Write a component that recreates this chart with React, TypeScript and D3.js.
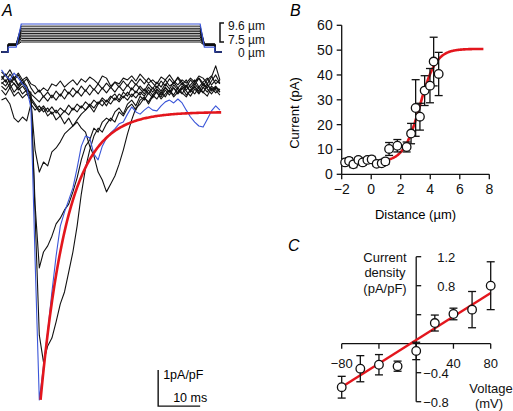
import React from "react";
import * as d3 from "d3";

const FONT = "'Liberation Sans', Arial, Helvetica, sans-serif";
const BLUE = "#3a55d8";
const RED = "#e3161d";

// ---------- Panel A data ----------
const T_MS = d3.range(0, 53); // sample times (ms), 1 ms spacing

const TRACE_BLUE = [0.56, 0.39, 0.28, 0.47, 0.33, 0.17, 0.06, -0.5, -4.72, -8.61, -7.67, -6.72, -5.61, -4.61, -3.78, -3.39, -3.06, -2.72, -2.17, -1.56, -1.28, -1.33, -1.78, -1.94, -1.56, -1.33, -1.19, -1.08, -0.94, -0.89, -0.67, -0.47, -0.61, -0.67, -0.56, -0.47, -0.56, -0.58, -0.44, -0.33, -0.28, -0.36, -0.25, -0.36, -0.56, -0.75, -0.89, -1.0, -1.03, -0.81, -0.58, -0.44, -0.56];
const TRACE_1 = [0.22, 0.11, 0.31, 0.17, 0.06, 0.19, 0, -0.06, -3.47, -6.81, -7.56, -7.11, -6.89, -6.44, -5.94, -5.61, -5.06, -4.5, -3.78, -2.89, -2.17, -1.67, -1.28, -1.06, -1.17, -0.94, -0.78, -0.89, -0.61, -0.72, -0.5, -0.39, -0.56, -0.28, -0.19, -0.39, -0.17, -0.06, -0.25, -0.11, 0, -0.19, -0.06, 0.06, -0.14, 0, 0.11, -0.08, 0.06, 0.17, -0.03, 0.08, 0];
const TRACE_2 = [0.33, 0.44, 0.22, 0.36, 0.14, 0.28, 0.11, -0.17, -3.19, -4.94, -4.5, -4.33, -4.06, -3.72, -3.56, -3.33, -3.17, -2.83, -2.44, -1.94, -1.56, -1.39, -1.06, -1.17, -0.89, -0.78, -0.86, -0.61, -0.5, -0.67, -0.39, -0.28, -0.44, -0.17, -0.28, -0.08, -0.22, 0, -0.14, 0.06, -0.06, 0.14, 0, -0.11, 0.11, -0.03, 0.17, 0.03, -0.08, 0.14, 0, 0.11, -0.06];
const TRACE_3 = [0.17, 0.28, 0.06, 0.19, 0, 0.11, -0.06, -0.28, -1.67, -2.28, -2.0, -2.11, -1.72, -1.61, -1.44, -1.22, -1.11, -1.0, -0.83, -0.67, -0.56, -0.44, -0.61, -0.39, -0.28, -0.44, -0.22, -0.11, -0.28, -0.06, -0.17, 0.06, -0.08, 0.11, -0.03, 0.17, 0.03, 0.22, 0.08, 0.28, 0.11, 0.19, 0.33, 0.14, 0.28, 0.06, 0.22, 0.33, 0.11, 0.28, 0.39, 0.17, 0.28];
const TRACE_4 = [0, -0.14, 0.06, -0.17, -0.06, -0.22, -0.11, -0.28, -0.44, -0.61, -0.5, -0.72, -0.61, -0.83, -0.72, -0.94, -0.78, -1.0, -0.89, -1.06, -1.17, -1.56, -1.83, -2.28, -2.5, -2.83, -2.61, -2.39, -2.06, -1.67, -1.22, -0.83, -0.5, -0.39, -0.22, -0.33, -0.14, -0.25, -0.06, -0.19, 0, -0.14, 0.06, -0.08, -0.19, 0, -0.11, 0.08, -0.06, -0.17, 0.06, -0.08, 0.03];
const TRACE_5 = [-0.28, -0.22, -0.39, -0.78, -0.89, -0.75, -0.86, -0.39, -0.56, -0.44, -0.61, -0.5, -0.67, -0.56, -0.72, -0.58, -0.69, -0.5, -0.61, -0.44, -0.56, -0.39, -0.5, -0.33, -0.44, -0.28, -0.39, -0.22, -0.33, -0.17, -0.28, -0.11, -0.22, -0.06, -0.17, 0, -0.14, 0.03, -0.08, 0.08, -0.06, 0.06, -0.11, 0.03, 0.14, -0.06, 0.08, -0.03, 0.17, 0.03, -0.11, 0.06, -0.06];
const TRACE_6 = [0.5, 0.39, 0.56, 0.33, 0.47, 0.28, 0.36, 0.17, 0.11, -0.06, 0.06, -0.03, 0.17, 0.11, 0.25, 0.08, 0.19, 0.28, 0.14, 0.31, 0.22, 0.36, 0.28, 0.17, 0.39, 0.33, 0.11, 0.22, 0.17, 0.33, 0.28, 0.39, 0.25, 0.44, 0.31, 0.19, 0.28, 0.17, 0.36, 0.28, 0.42, 0.25, 0.14, 0.28, 0.19, 0.33, 0.22, 0.39, 0.33, 0.17, 0.36, 0.67, 0.28];
const TRACE_7 = [0.28, 0.44, 0.17, 0.31, 0.11, 0.22, 0.06, -0.11, -0.22, -0.33, -0.17, -0.31, -0.14, -0.28, -0.11, -0.25, -0.06, -0.19, -0.03, -0.17, 0, -0.14, 0.03, -0.11, 0.06, -0.08, 0.08, -0.06, 0.11, -0.03, 0.14, 0, 0.17, 0.03, -0.11, 0.08, -0.06, 0.11, -0.03, 0.17, 0.03, 0.22, 0.06, 0.19, 0, 0.14, 0.28, 0.08, 0.22, 0.33, 0.14, 0.28, 0.17];
const TRACE_8 = [0.11, 0, 0.17, -0.06, 0.08, -0.11, 0, -0.22, -0.39, -0.56, -0.44, -0.61, -0.47, -0.64, -0.5, -0.61, -0.42, -0.56, -0.39, -0.5, -0.33, -0.44, -0.28, -0.39, -0.22, -0.33, -0.17, -0.28, -0.11, -0.22, -0.06, -0.19, -0.03, -0.14, 0.03, -0.11, 0.06, -0.08, -0.19, 0, -0.14, 0.06, -0.08, 0.11, -0.03, -0.17, 0.03, -0.11, 0.08, -0.06, 0.11, 0, -0.14];
const TRACE_9 = [0.39, 0.22, 0.44, 0.28, 0.42, 0.19, 0.31, 0.06, -0.11, 0, -0.19, -0.06, -0.22, -0.03, -0.17, 0.03, -0.11, 0.06, -0.08, 0.11, -0.03, 0.14, 0, 0.17, 0.03, 0.19, 0.06, 0.22, 0.08, 0.25, 0.11, 0.28, 0.14, 0.31, 0.17, 0.33, 0.19, 0.06, 0.25, 0.11, 0.31, 0.17, 0.36, 0.22, 0.08, 0.28, 0.14, 0.33, 0.19, 0.06, 0.25, 0.42, 0.19];
const BLACK_TRACES = [TRACE_9, TRACE_6, TRACE_7, TRACE_8, TRACE_5, TRACE_4, TRACE_3, TRACE_2, TRACE_1];

// exponential fit of the blue trace
const FIT_T0 = 9.3;
const FIT_END = 52.5;
const FIT_PLATEAU = -0.61;
const FIT_AMP = -8.0;
const FIT_TAU = 6.5;

// stimulus (displacement, µm)
const STIM_LEVELS_UM = [9.6, 9.35, 9.1, 8.9, 8.7, 8.5, 8.3, 8.1, 7.9, 7.7, 7.5];
const STIM_PRE_UM = [3.6, 6.1, 5.9, 5.8, 5.7, 5.5, 5.4, 5.3, 5.1, 5.0, 4.9];
const STIM_T = [0, 1.6, 1.6, 3.5, 4.7, 47.3, 48.3, 50.8, 50.8, 52.5];
const STIM_LABELS = ["9.6 µm", "7.5 µm", "0 µm"];

// ---------- Panel B data ----------
const B_DIST = [-1.77, -1.5, -1.21, -0.87, -0.58, -0.26, 0.03, 0.37, 0.71, 0.96, 1.21, 1.77, 2.4, 2.7, 3.01, 3.3, 3.62, 3.98, 4.23, 4.57];
const B_CURR = [4.8, 5.4, 4.0, 5.8, 4.8, 5.8, 6.0, 4.2, 4.4, 5.2, 10.2, 11.5, 11.0, 16.4, 26.7, 23.2, 33.7, 35.7, 45.4, 40.4];
const B_ERR = [1.3, 1.2, 1.3, 1.0, 1.2, 1.0, 1.2, 1.0, 1.0, 1.2, 2.6, 2.5, 2.0, 4.1, 11.4, 5.4, 6.0, 6.9, 9.8, 8.7];
const B_XTICKS = [-2, 0, 2, 4, 6, 8];
const B_YTICKS = [0, 10, 20, 30, 40, 50, 60];
const SIG_BASE = 5.0;
const SIG_TOP = 50.5;
const SIG_X50 = 3.3;
const SIG_K = 0.55;
const SIG_RANGE = [-1.9, 7.6];

// ---------- Panel C data ----------
const C_VOLT = [-80, -60, -40, -20, 0, 20, 40, 60, 80];
const C_DENS = [-0.6, -0.345, -0.29, -0.31, -0.1, 0.285, 0.41, 0.47, 0.8];
const C_ERR = [0.15, 0.18, 0.14, 0.07, 0.12, 0.11, 0.08, 0.25, 0.33];
const C_XTICKS = [-80, -40, 0, 40, 80];
const C_XLABELS = [-80, 40, 80];
const C_YTICKS = [-0.8, -0.4, 0.4, 0.8, 1.2];
const C_YLABELS = [-0.8, -0.4, 0.8, 1.2];
const LIN_SLOPE = 0.0081;
const LIN_INTERCEPT = 0.05;

const fmt = (v: number) => (v < 0 ? "\u2212" + Math.abs(v) : String(v));
const fmtC = (v: number) => (v < 0 ? "\u2212" + Math.abs(v).toFixed(1) : v.toFixed(1));

export default function App() {
  // Panel A scales
  const xA = d3.scaleLinear().domain([0, 53]).range([1.5, 224.1]);
  const yA = d3.scaleLinear().domain([0, -1]).range([90, 126]);
  const yS = d3.scaleLinear().domain([0, 7.5, 9.6]).range([52, 42, 24]);
  const traceLine = d3
    .line<number>()
    .x((_, i) => xA(T_MS[i]))
    .y((d) => yA(d));
  const fitPts = d3.range(FIT_T0, FIT_END + 0.01, 0.25).map((t) => [t, FIT_PLATEAU + FIT_AMP * Math.exp(-(t - FIT_T0) / FIT_TAU)] as [number, number]);
  const fitLine = d3
    .line<[number, number]>()
    .x((d) => xA(d[0]))
    .y((d) => yA(d[1]));
  const stimPath = (lvl: number, pre: number) => {
    const vals = [0, 0, pre, pre, lvl, lvl, pre, pre, 0, 0];
    return d3
      .line<number>()
      .x((_, i) => xA(STIM_T[i]))
      .y((d) => yS(d))(vals) as string;
  };
  const sbT = 37.3;
  const sbV = -8.78;

  // Panel B scales
  const xB = d3.scaleLinear().domain([-2, 8]).range([341.7, 489.3]);
  const yB = d3.scaleLinear().domain([0, 60]).range([174.3, 25.3]);
  const sigPts = d3.range(SIG_RANGE[0], SIG_RANGE[1] + 0.01, 0.05).map((x) => [x, SIG_BASE + (SIG_TOP - SIG_BASE) / (1 + Math.exp(-(x - SIG_X50) / SIG_K))] as [number, number]);
  const sigLine = d3
    .line<[number, number]>()
    .x((d) => xB(d[0]))
    .y((d) => yB(d[1]));

  // Panel C scales
  const xC = d3.scaleLinear().domain([-80, 80]).range([341.7, 490.7]);
  const yC = d3.scaleLinear().domain([-0.8, 1.2]).range([401.7, 256.7]);

  const cap = 4;

  return (
    <div style={{ position: "absolute", left: 0, top: 0 }}>
      <svg width={513} height={411} style={{ display: "block", background: "#fff" }} fontFamily={FONT}>
        {/* ---------------- Panel A ---------------- */}
        <text x={2} y={16} fontSize={16} fontStyle="italic">A</text>
        {/* stimulus */}
        <g fill="none" strokeLinejoin="miter">
          {STIM_LEVELS_UM.slice(1).map((l, i) => (
            <path key={i} d={stimPath(l, STIM_PRE_UM[i + 1])} stroke="#111" strokeWidth={1} />
          ))}
          <path d={stimPath(STIM_LEVELS_UM[0], STIM_PRE_UM[0])} stroke={BLUE} strokeWidth={1.2} />
        </g>
        {/* stimulus scale bracket */}
        <path d={`M224,${yS(9.6) - 1}H220V${yS(7.5)}H224`} fill="none" stroke="#111" strokeWidth={1.5} />
        <g fontSize={12} fill="#111" textAnchor="end">
          <text x={265} y={yS(9.6) + 6}>{STIM_LABELS[0]}</text>
          <text x={265} y={yS(7.5) + 2}>{STIM_LABELS[1]}</text>
          <text x={265} y={yS(0) + 4.5}>{STIM_LABELS[2]}</text>
        </g>
        {/* current traces */}
        <g fill="none" strokeLinejoin="round">
          {BLACK_TRACES.map((tr, i) => (
            <path key={i} d={traceLine(tr) as string} stroke="#111" strokeWidth={1.1} />
          ))}
          <path d={traceLine(TRACE_BLUE) as string} stroke={BLUE} strokeWidth={1.1} />
          <path d={fitLine(fitPts) as string} stroke={RED} strokeWidth={2.6} />
        </g>
        {/* scale bar */}
        <path
          d={`M${xA(sbT)},${yA(sbV + 1)}V${yA(sbV)}H${xA(sbT + 10)}`}
          fill="none"
          stroke="#111"
          strokeWidth={1.4}
        />
        <text x={xA(sbT) + 5} y={yA(sbV + 1) + 9} fontSize={12.5}>1pA/pF</text>
        <text x={xA(sbT) + 15} y={yA(sbV) - 4} fontSize={12.5}>10 ms</text>

        {/* ---------------- Panel B ---------------- */}
        <text x={290} y={16} fontSize={16} fontStyle="italic">B</text>
        <g stroke="#111" strokeWidth={1.3} fill="none">
          <line x1={xB(-2)} x2={xB(-2)} y1={yB(0)} y2={yB(60)} />
          <line x1={xB(-2)} x2={xB(8)} y1={yB(0)} y2={yB(0)} />
          {B_YTICKS.map((v) => (
            <line key={v} x1={xB(-2) - 5} x2={xB(-2)} y1={yB(v)} y2={yB(v)} />
          ))}
          {B_XTICKS.map((v) => (
            <line key={v} x1={xB(v)} x2={xB(v)} y1={yB(0)} y2={yB(0) + 5} />
          ))}
        </g>
        <g fontSize={14} fill="#111">
          {B_YTICKS.map((v) => (
            <text key={v} x={xB(-2) - 9} y={yB(v) + 5} textAnchor="end">{v}</text>
          ))}
          {B_XTICKS.map((v) => (
            <text key={v} x={xB(v)} y={yB(0) + 20} textAnchor="middle">{fmt(v)}</text>
          ))}
        </g>
        <text x={415.5} y={219} fontSize={13} textAnchor="middle">Distance (µm)</text>
        <text transform="translate(299,113) rotate(-90)" fontSize={13} textAnchor="middle">Current (pA)</text>
        <path d={sigLine(sigPts) as string} fill="none" stroke={RED} strokeWidth={2.6} />
        <g stroke="#111" strokeWidth={1.3}>
          {B_DIST.map((x, i) => (
            <g key={i}>
              <line x1={xB(x)} x2={xB(x)} y1={yB(B_CURR[i] - B_ERR[i])} y2={yB(B_CURR[i] + B_ERR[i])} />
              <line x1={xB(x) - cap} x2={xB(x) + cap} y1={yB(B_CURR[i] + B_ERR[i])} y2={yB(B_CURR[i] + B_ERR[i])} />
              <line x1={xB(x) - cap} x2={xB(x) + cap} y1={yB(B_CURR[i] - B_ERR[i])} y2={yB(B_CURR[i] - B_ERR[i])} />
            </g>
          ))}
          {B_DIST.map((x, i) => (
            <circle key={"c" + i} cx={xB(x)} cy={yB(B_CURR[i])} r={4.3} fill="#fff" />
          ))}
        </g>

        {/* ---------------- Panel C ---------------- */}
        <text x={288} y={251} fontSize={16} fontStyle="italic">C</text>
        <g stroke="#111" strokeWidth={1.3} fill="none">
          <line x1={xC(0)} x2={xC(0)} y1={yC(-0.8)} y2={yC(1.2)} />
          <line x1={xC(-80)} x2={xC(80)} y1={yC(0)} y2={yC(0)} />
          {C_YTICKS.map((v) => (
            <line key={v} x1={xC(0)} x2={xC(0) + 5} y1={yC(v)} y2={yC(v)} />
          ))}
          {C_XTICKS.map((v) => (
            <line key={v} x1={xC(v)} x2={xC(v)} y1={yC(0)} y2={yC(0) + 5} />
          ))}
        </g>
        <g fontSize={13} fill="#111">
          {C_YLABELS.map((v) => (
            <text key={v} x={xC(0) + (v > 0 ? 21 : 7)} y={yC(v) + 5}>{fmtC(v)}</text>
          ))}
          {C_XLABELS.map((v) => (
            <text key={v} x={xC(v)} y={yC(0) + 24} textAnchor="middle">{fmt(v)}</text>
          ))}
        </g>
        <g fontSize={13} fill="#111" textAnchor="middle">
          <text x={385} y={262}>Current</text>
          <text x={385} y={277}>density</text>
          <text x={385} y={293}>(pA/pF)</text>
          <text x={491} y={393}>Voltage</text>
          <text x={489} y={408}>(mV)</text>
        </g>
        <line
          x1={xC(-80)}
          x2={xC(80)}
          y1={yC(LIN_INTERCEPT + LIN_SLOPE * -80)}
          y2={yC(LIN_INTERCEPT + LIN_SLOPE * 80)}
          stroke={RED}
          strokeWidth={2.4}
        />
        <g stroke="#111" strokeWidth={1.3}>
          {C_VOLT.map((x, i) => (
            <g key={i}>
              <line x1={xC(x)} x2={xC(x)} y1={yC(C_DENS[i] - C_ERR[i])} y2={yC(C_DENS[i] + C_ERR[i])} />
              <line x1={xC(x) - cap} x2={xC(x) + cap} y1={yC(C_DENS[i] + C_ERR[i])} y2={yC(C_DENS[i] + C_ERR[i])} />
              <line x1={xC(x) - cap} x2={xC(x) + cap} y1={yC(C_DENS[i] - C_ERR[i])} y2={yC(C_DENS[i] - C_ERR[i])} />
            </g>
          ))}
          {C_VOLT.map((x, i) => (
            <circle key={"c" + i} cx={xC(x)} cy={yC(C_DENS[i])} r={4.3} fill="#fff" />
          ))}
        </g>
      </svg>
    </div>
  );
}
